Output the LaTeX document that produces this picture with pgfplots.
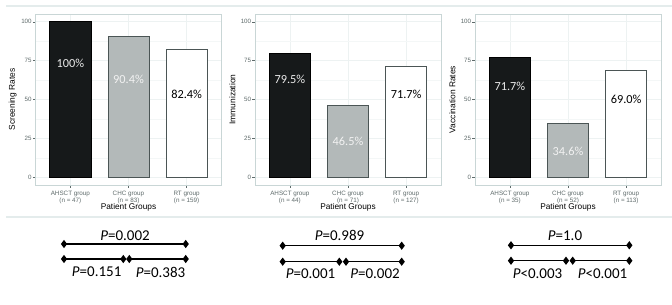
\documentclass[border=0pt]{standalone}
\usepackage{pgfplots}
\pgfplotsset{compat=1.18}
\usepackage{fontspec}
\setmainfont{Liberation Sans}
\newfontfamily\calibri{Carlito}
\definecolor{barblack}{HTML}{16191A}
\definecolor{bargrey}{HTML}{B3B9B9}
\definecolor{baredge}{HTML}{4B5555}
\definecolor{framec}{HTML}{C9D6D6}
\definecolor{gridc}{HTML}{EDF2F2}
\definecolor{tickc}{HTML}{5E6A6A}
\definecolor{bandc}{HTML}{E4ECEC}
\tikzset{
  vlab/.style={font=\calibri\fontsize{12.3}{13}\selectfont, anchor=center},
  plab/.style={font=\calibri\fontsize{15}{16}\selectfont, anchor=center},
}
\pgfplotsset{
  panel/.style={
    width=186pt, height=171pt, scale only axis,
    anchor=south west,
    xmin=0.4, xmax=3.6, ymin=-5, ymax=105,
    xtick={1,2,3}, ytick={0,25,50,75,100},
    minor ytick={12.5,37.5,62.5,87.5},
    grid=both,
    major grid style={gridc, line width=0.6pt},
    minor grid style={gridc!60!white, line width=0.4pt},
    axis line style={framec, line width=0.7pt},
    tick align=outside, tick pos=left,
    major tick length=2.7pt, minor tick length=0pt,
    tick style={tickc, line width=0.5pt},
    yticklabel style={font=\fontsize{6.2}{7}\selectfont, text=tickc, inner sep=1pt},
    xticklabel style={font=\fontsize{6.3}{7.6}\selectfont, text=tickc, align=center, inner sep=1.2pt, yshift=-1.6pt},
    /pgf/number format/assume math mode=true,
    xlabel={Patient Groups},
    xlabel style={font=\fontsize{8.3}{9}\selectfont, at={(axis description cs:0.5,-0.133)}, anchor=center},
    ylabel style={font=\fontsize{8.4}{9}\selectfont, at={(axis description cs:-0.122,0.5)}, anchor=center},
    clip=false,
  },
  b1/.style={ybar, bar width=0.71, bar shift=0pt, fill=barblack, draw=black, line width=0.6pt},
  b2/.style={ybar, bar width=0.71, bar shift=0pt, fill=bargrey, draw=baredge, line width=0.6pt},
  b3/.style={ybar, bar width=0.71, bar shift=0pt, fill=white, draw=baredge, line width=0.6pt},
  pline/.style={black, line width=1.5pt, mark=diamond*, mark size=2.9pt, mark options={solid}},
}
\begin{document}
\begin{tikzpicture}
\useasboundingbox (0,0) rectangle (672pt,305pt);
% canvas axis for P-value brackets
\begin{axis}[at={(0,0)}, anchor=south west, width=672pt, height=305pt, scale only axis,
  xmin=0, xmax=672, ymin=0, ymax=305, y dir=reverse, hide axis, clip=false]
\addplot[bandc, line width=2.8pt] coordinates {(6,6) (672,6)};
\addplot[bandc, line width=2.8pt] coordinates {(6,217) (672,217)};
% panel 1
\addplot[pline] coordinates {(64,244) (185.7,244)};
\addplot[pline] coordinates {(64,259) (123.3,259)};
\addplot[pline] coordinates {(129.3,259) (185.7,259)};
\node[plab] at (axis cs:125,235.5) {\textit{P}=0.002};
\node[plab] at (axis cs:96.7,272) {\textit{P}=0.151};
\node[plab] at (axis cs:160.5,272) {\textit{P}=0.383};
% panel 2
\addplot[pline] coordinates {(282.7,245.7) (401.7,245.7)};
\addplot[pline] coordinates {(282.7,261.7) (339.3,261.7)};
\addplot[pline] coordinates {(346,261.7) (401.7,261.7)};
\node[plab] at (axis cs:339.5,235) {\textit{P}=0.989};
\node[plab] at (axis cs:310.5,273.3) {\textit{P}=0.001};
\node[plab] at (axis cs:375,273.3) {\textit{P}=0.002};
% panel 3
\addplot[pline] coordinates {(511,245.3) (629.3,245.3)};
\addplot[pline] coordinates {(511,260.7) (566,260.7)};
\addplot[pline] coordinates {(572.7,260.7) (629.3,260.7)};
\node[plab] at (axis cs:565,236) {\textit{P}=1.0};
\node[plab] at (axis cs:537.5,273.3) {\textit{P}<0.003};
\node[plab] at (axis cs:602.5,273.3) {\textit{P}<0.001};
\end{axis}
% panel 1
\begin{axis}[panel, at={(35.5pt,120pt)}, ylabel={Screening Rates},
  xticklabels={{AHSCT group\\(n = 47)},{CHC group\\(n = 83)},{RT group\\(n = 159)}}]
\addplot[b1] coordinates {(1,100)};
\addplot[b2] coordinates {(2,90.4)};
\addplot[b3] coordinates {(3,82.4)};
\node[vlab, text=white!92!black] at (axis cs:1,73.3) {100\%};
\node[vlab, text=white!95!black] at (axis cs:2,63.2) {90.4\%};
\node[vlab, text=black] at (axis cs:3,53.5) {82.4\%};
\end{axis}
% panel 2
\begin{axis}[panel, at={(255pt,120pt)}, ylabel={Immunization},
  xticklabels={{AHSCT group\\(n = 44)},{CHC group\\(n = 71)},{RT group\\(n = 127)}}]
\addplot[b1] coordinates {(1,79.6)};
\addplot[b2] coordinates {(2,46.4)};
\addplot[b3] coordinates {(3,71.6)};
\node[vlab, text=white!92!black] at (axis cs:1,63) {79.5\%};
\node[vlab, text=white!95!black] at (axis cs:2,22.9) {46.5\%};
\node[vlab, text=black] at (axis cs:3,53.5) {71.7\%};
\end{axis}
% panel 3
\begin{axis}[panel, at={(475pt,120pt)}, ylabel={Vaccination Rates},
  xticklabels={{AHSCT group\\(n = 35)},{CHC group\\(n = 52)},{RT group\\(n = 113)}}]
\addplot[b1] coordinates {(1,77.1)};
\addplot[b2] coordinates {(2,34.5)};
\addplot[b3] coordinates {(3,69.0)};
\node[vlab, text=white!92!black] at (axis cs:1,58.7) {71.7\%};
\node[vlab, text=white!95!black] at (axis cs:2,16.5) {34.6\%};
\node[vlab, text=black] at (axis cs:3,50.3) {69.0\%};
\end{axis}
\end{tikzpicture}
\end{document}
